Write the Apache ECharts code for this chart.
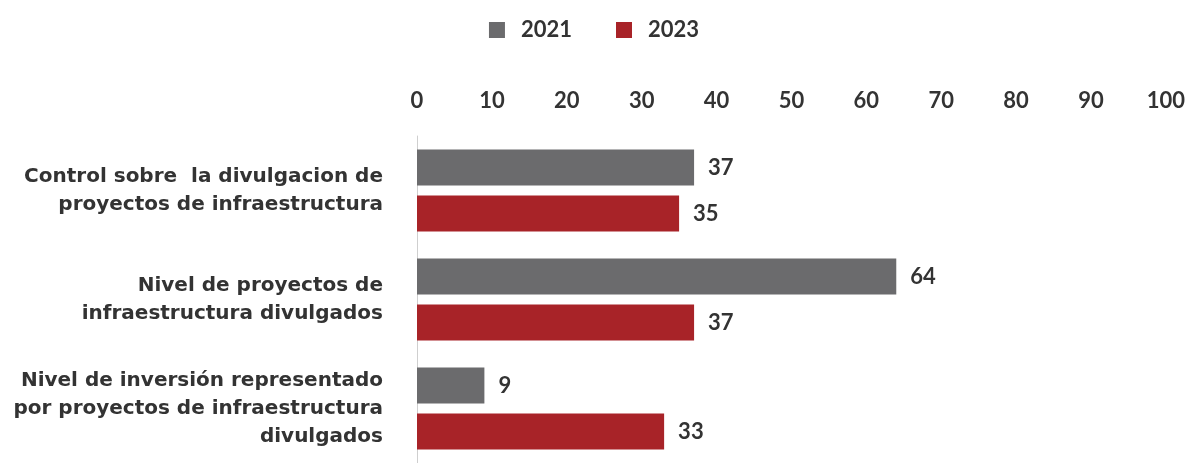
<!DOCTYPE html>
<html>
<head>
<meta charset="utf-8">
<script src="https://cdn.jsdelivr.net/npm/echarts@6/dist/echarts.min.js"></script>
<style>html,body{margin:0;padding:0;background:#fff;}#c{width:1188px;height:463px;}</style>
</head>
<body>
<div id="c"></div>
<script>
const categories = [
  "Control sobre  la divulgacion de\nproyectos de infraestructura",
  "Nivel de proyectos de\ninfraestructura divulgados",
  "Nivel de inversión representado\npor proyectos de infraestructura\ndivulgados"
];
const seriesNames = ["2021", "2023"];
const values2021 = [37, 64, 9];
const values2023 = [35, 37, 33];
const xTicks = [0, 10, 20, 30, 40, 50, 60, 70, 80, 90, 100];

const FONT = 'Lato';
const W = 'bold';
const chart = echarts.init(document.getElementById('c'));
const labelStyle = {show: true, position: 'right', distance: 14, fontFamily: FONT, fontWeight: W, fontSize: 22, color: '#333'};
chart.setOption({
  animation: false,
  textStyle: {fontFamily: FONT},
  legend: {
    top: 14, left: 'center', itemWidth: 16, itemHeight: 16, itemGap: 44,
    icon: 'rect',
    textStyle: {fontFamily: FONT, fontWeight: W, fontSize: 22, color: '#333', padding: [0,0,0,11]},
    data: seriesNames
  },
  grid: {left: 417, right: 17, top: 136, height: 331, containLabel: false},
  xAxis: {
    type: 'value', position: 'top', min: xTicks[0], max: xTicks[xTicks.length-1], interval: 10,
    axisLine: {show: false}, axisTick: {show: false}, splitLine: {show: false},
    axisLabel: {margin: 24, fontFamily: FONT, fontWeight: W, fontSize: 22, color: '#333'}
  },
  yAxis: {
    type: 'category', inverse: true, data: categories,
    axisLine: {show: true, lineStyle: {color: '#cfcfcf', width: 1}},
    axisTick: {show: false},
    axisLabel: {margin: 34, fontFamily: 'DejaVu Sans', fontWeight: 'bold', fontSize: 20, color: '#333', lineHeight: 28, align: 'right'}
  },
  series: [
    {name: seriesNames[0], type: 'bar', data: values2021, barWidth: 36, barGap: '28%', itemStyle: {color: '#6b6b6d'}, label: labelStyle},
    {name: seriesNames[1], type: 'bar', data: values2023, barWidth: 36, itemStyle: {color: '#a82328'}, label: labelStyle}
  ]
});
</script>
</body>
</html>
